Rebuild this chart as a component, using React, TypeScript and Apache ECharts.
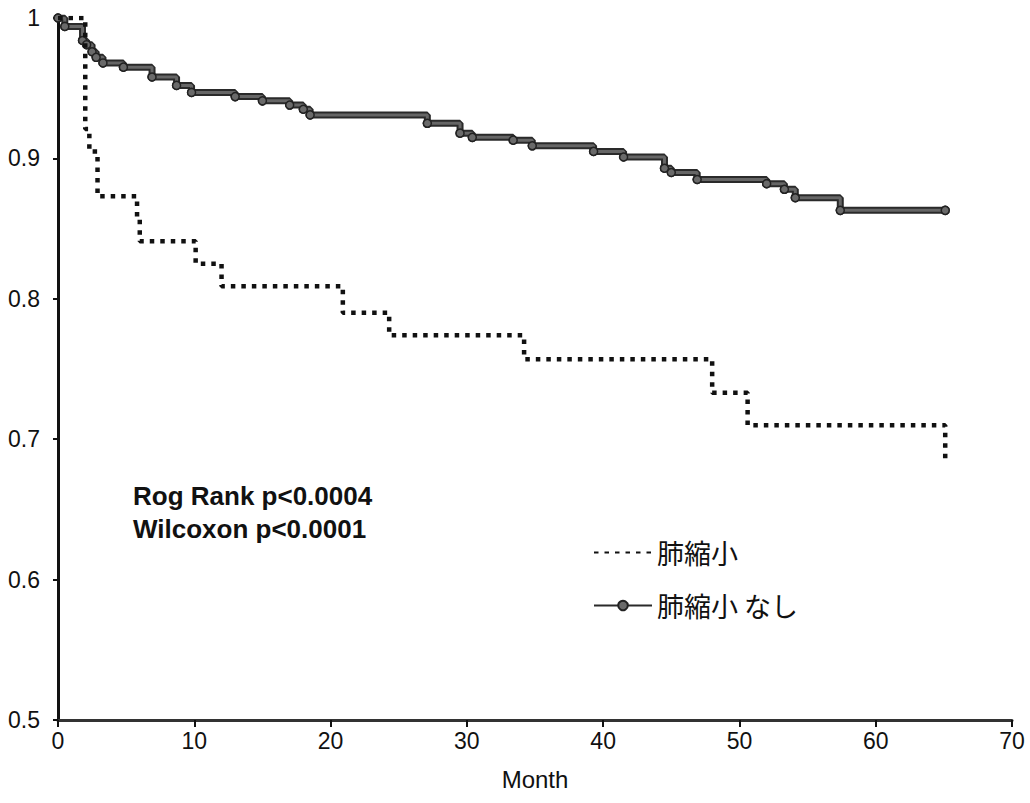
import React, { useEffect, useRef } from "react";
import * as echarts from "echarts";

// Kaplan-Meier curves (month, survival)
const reducedMonths = [0, 2.0, 2.3, 2.9, 5.8, 6.0, 10.1, 12.0, 20.9, 24.3, 34.2, 48.0, 50.6, 65.1];
const reducedSurvival = [1.0, 0.921, 0.905, 0.873, 0.857, 0.841, 0.825, 0.809, 0.79, 0.774, 0.757, 0.733, 0.71, 0.685];

const noneMonths = [0, 0.5, 1.8, 2.1, 2.5, 2.8, 3.3, 4.8, 6.9, 8.7, 9.8, 13.0, 15.0, 17.0, 18.0, 18.5, 27.1, 29.5, 30.4, 33.4, 34.8, 39.3, 41.5, 44.5, 45.0, 46.9, 52.0, 53.3, 54.1, 57.4, 65.1];
const noneSurvival = [1.0, 0.994, 0.984, 0.981, 0.976, 0.972, 0.968, 0.965, 0.958, 0.952, 0.947, 0.944, 0.941, 0.938, 0.935, 0.931, 0.925, 0.918, 0.915, 0.913, 0.909, 0.905, 0.901, 0.893, 0.89, 0.885, 0.882, 0.878, 0.872, 0.863, 0.863];

const seriesNames = ["肺縮小", "肺縮小 なし"];
const annotationLines = ["Rog Rank p<0.0004", "Wilcoxon p<0.0001"];
const xAxisName = "Month";

export default function App() {
  const ref = useRef<HTMLDivElement>(null);
  useEffect(() => {
    if (!ref.current) return;
    const chart = echarts.init(ref.current, undefined, { renderer: "svg" });
    const reducedData = reducedMonths.map((m, i) => [m, reducedSurvival[i]]);
    const noneData = noneMonths.map((m, i) => [m, noneSurvival[i]]);
    const font = "'Liberation Sans', Arial, sans-serif";
    chart.setOption({
      animation: false,
      backgroundColor: "#ffffff",
      grid: { left: 58, right: 18, top: 18, bottom: 83, containLabel: false },
      xAxis: {
        type: "value",
        min: 0,
        max: 70,
        interval: 10,
        name: xAxisName,
        nameLocation: "middle",
        nameGap: 47,
        nameTextStyle: { fontSize: 24, color: "#111", fontFamily: font },
        axisLine: { show: true, onZero: false, lineStyle: { color: "#333", width: 3 } },
        axisTick: { show: true, length: 7, lineStyle: { color: "#111", width: 2 } },
        axisLabel: { fontSize: 23, color: "#111", margin: 9, fontFamily: font },
        splitLine: { show: false },
      },
      yAxis: {
        type: "value",
        min: 0.5,
        max: 1,
        interval: 0.1,
        axisLine: { show: true, onZero: false, lineStyle: { color: "#111", width: 3 } },
        axisTick: { show: true, length: 5, lineStyle: { color: "#111", width: 2 } },
        axisLabel: {
          fontSize: 23,
          color: "#111",
          margin: 18,
          fontFamily: font,
          formatter: (v: number) => (Math.abs(v - 1) < 1e-9 ? "1" : v.toFixed(1)),
        },
        splitLine: { show: false },
      },
      legend: {
        data: [
          { name: seriesNames[0], itemStyle: { opacity: 0 } },
          { name: seriesNames[1] },
        ],
        orient: "vertical",
        left: 588,
        top: 534,
        itemWidth: 58,
        itemHeight: 12,
        itemGap: 26,
        selectedMode: false,
        textStyle: { fontSize: 27, color: "#111", fontFamily: "'Noto Sans CJK JP', sans-serif" },
      },
      graphic: [
        {
          type: "text",
          left: 133,
          top: 479,
          style: {
            text: annotationLines.join("\n"),
            font: `bold 26px ${font}`,
            lineHeight: 33,
            fill: "#111",
          },
        },
      ],
      series: [
        {
          name: seriesNames[0],
          type: "line",
          step: "end",
          data: reducedData,
          symbol: "none",
          itemStyle: { color: "#111" },
          lineStyle: { color: "#111", width: 4.5, type: [4.5, 6], cap: "butt" },
          z: 4,
        },
        {
          name: seriesNames[1],
          type: "line",
          step: "end",
          data: noneData,
          symbol: "circle",
          symbolSize: 8,
          itemStyle: { color: "#6a6a6a", borderColor: "#222", borderWidth: 1.5 },
          lineStyle: { color: "#2a2a2a", width: 7 },
          z: 2,
        },
        {
          name: "_inner",
          type: "line",
          step: "end",
          data: noneData,
          symbol: "circle",
          symbolSize: 8,
          itemStyle: { color: "#6a6a6a", borderColor: "#222", borderWidth: 1.5 },
          lineStyle: { color: "#666", width: 3 },
          silent: true,
          z: 3,
        },
      ],
    });
    return () => chart.dispose();
  }, []);
  return (
    <div
      ref={ref}
      style={{ position: "fixed", left: 0, top: 0, width: 1030, height: 803, background: "#fff" }}
    />
  );
}
